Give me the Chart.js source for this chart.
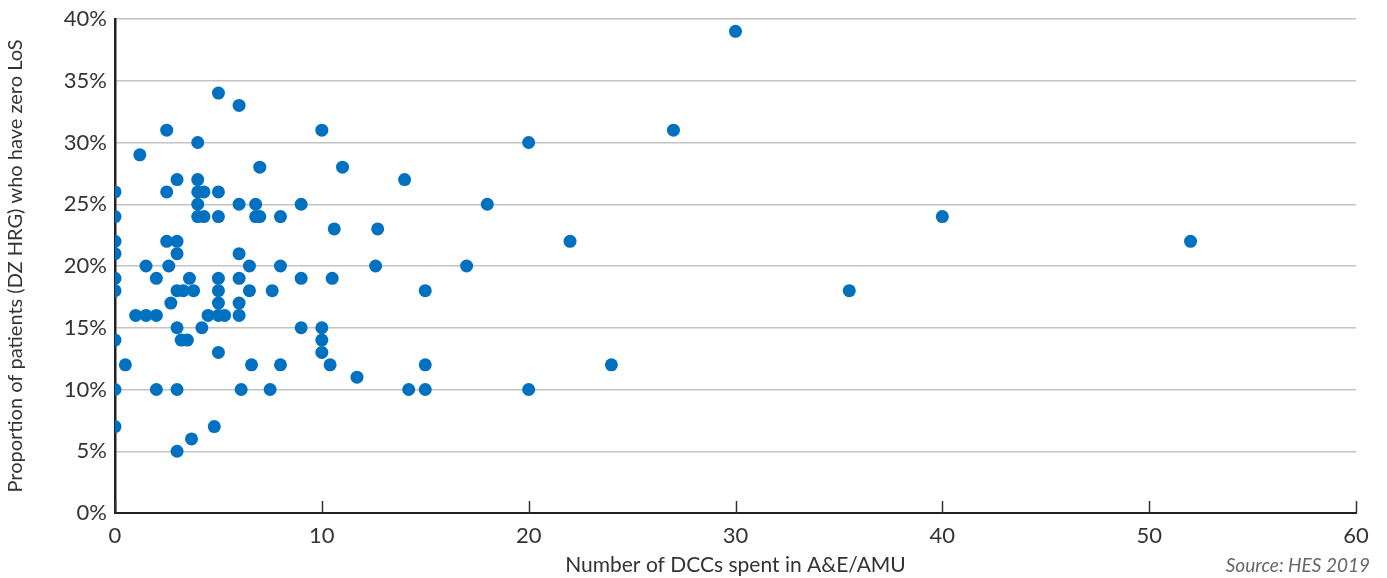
<!DOCTYPE html>
<html>
<head>
<meta charset="utf-8">
<script src="https://cdn.jsdelivr.net/npm/chart.js@4/dist/chart.umd.min.js"></script>
<style>
  html, body { margin: 0; padding: 0; background: #fff; }
  #wrap { width: 1387px; height: 578px; }
</style>
</head>
<body>
<div id="wrap"><canvas id="scatterChart" width="1387" height="578"></canvas></div>
<script>
// DCCs spent in A&E/AMU (x) and % of patients with zero LoS (y)
let dccs = [
  0, 0, 0, 0, 0, 0, 0, 0, 0,
  0.5, 1, 1.2, 1.5, 1.5, 2, 2, 2, 2.5, 2.5, 2.5, 2.6, 2.7,
  3, 3, 3, 3, 3, 3, 3, 3.2, 3.3, 3.5, 3.6, 3.7, 3.8,
  4, 4, 4, 4, 4, 4.2, 4.3, 4.3, 4.5, 4.8,
  5, 5, 5, 5, 5, 5, 5, 5, 5.3,
  6, 6, 6, 6, 6, 6, 6.1, 6.5, 6.5, 6.6, 6.8, 6.8, 7, 7, 7.5, 7.6,
  8, 8, 8, 9, 9, 9, 10, 10, 10, 10, 10.4, 10.5, 10.6, 11, 11.7,
  12.6, 12.7, 14, 14.2, 15, 15, 15, 17, 18, 20, 20, 22, 24, 27, 30, 35.5, 40, 52
];
let zeroLos = [
  26, 24, 22, 21, 19, 18, 14, 10, 7,
  12, 16, 29, 20, 16, 19, 16, 10, 31, 26, 22, 20, 17,
  27, 22, 21, 18, 15, 10, 5, 14, 18, 14, 19, 6, 18,
  30, 27, 26, 25, 24, 15, 26, 24, 16, 7,
  34, 26, 24, 19, 18, 17, 16, 13, 16,
  33, 25, 21, 19, 17, 16, 10, 20, 18, 12, 25, 24, 28, 24, 10, 18,
  24, 20, 12, 25, 19, 15, 31, 15, 14, 13, 12, 19, 23, 28, 11,
  20, 23, 27, 10, 18, 12, 10, 20, 25, 30, 10, 22, 12, 31, 39, 18, 24, 22
];
let xTicks = [0, 10, 20, 30, 40, 50, 60];
let yTicks = [0, 5, 10, 15, 20, 25, 30, 35, 40];

let points = dccs.map((x, i) => ({ x: x, y: zeroLos[i] }));

// small upward tick marks on the x axis + source note
const extras = {
  id: 'extras',
  afterDraw(chart) {
    const c = chart.ctx;
    const xs = chart.scales.x;
    const bottom = chart.chartArea.bottom;
    c.save();
    c.strokeStyle = '#333';
    c.lineWidth = 1.5;
    xTicks.forEach(t => {
      const px = Math.round(xs.getPixelForValue(t)) + 0.5;
      c.beginPath();
      c.moveTo(px, bottom - 12);
      c.lineTo(px, bottom);
      c.stroke();
    });
    c.fillStyle = '#666';
    c.font = 'italic 19px Lato';
    c.textAlign = 'right';
    c.textBaseline = 'middle';
    c.fillText('Source: HES 2019', 1370, 566);
    c.restore();
  }
};

let ctx = document.getElementById('scatterChart').getContext('2d');
let chart = new Chart(ctx, {
  type: 'scatter',
  data: {
    datasets: [{
      data: points,
      backgroundColor: '#0070C0',
      borderWidth: 0,
      pointRadius: 6.5,
      pointHoverRadius: 6.5
    }]
  },
  plugins: [extras],
  options: {
    responsive: false,
    animation: false,
    layout: { padding: { top: 15, right: 31, left: 4, bottom: 0 } },
    plugins: {
      legend: { display: false },
      tooltip: { enabled: false }
    },
    scales: {
      x: {
        type: 'linear',
        min: 0,
        max: 60,
        afterFit: s => { s.height = 65; },
        afterBuildTicks: s => { s.ticks = xTicks.map(v => ({ value: v })); },
        grid: { drawOnChartArea: false, drawTicks: false },
        border: { color: '#222', width: 2 },
        ticks: {
          padding: 10,
          color: '#333',
          font: { family: 'Lato', size: 22 }
        },
        title: {
          display: true,
          text: 'Number of DCCs spent in A&E/AMU',
          color: '#333',
          font: { family: 'Lato', size: 21 },
          padding: { top: 2, bottom: 0 }
        }
      },
      y: {
        min: 0,
        max: 40,
        afterFit: s => { s.width = 111; },
        afterBuildTicks: s => { s.ticks = yTicks.map(v => ({ value: v })); },
        grid: { color: '#c4c4c4', lineWidth: 1.5, drawTicks: false },
        border: { color: '#222', width: 2.5 },
        ticks: {
          padding: 8,
          color: '#333',
          font: { family: 'Lato', size: 22, lineHeight: 1 },
          callback: v => v + '%'
        },
        title: {
          display: true,
          text: 'Proportion of patients (DZ HRG) who have zero LoS',
          color: '#333',
          font: { family: 'Lato', size: 20 },
          padding: { top: 0, bottom: 0 }
        }
      }
    }
  }
});
</script>
</body>
</html>
